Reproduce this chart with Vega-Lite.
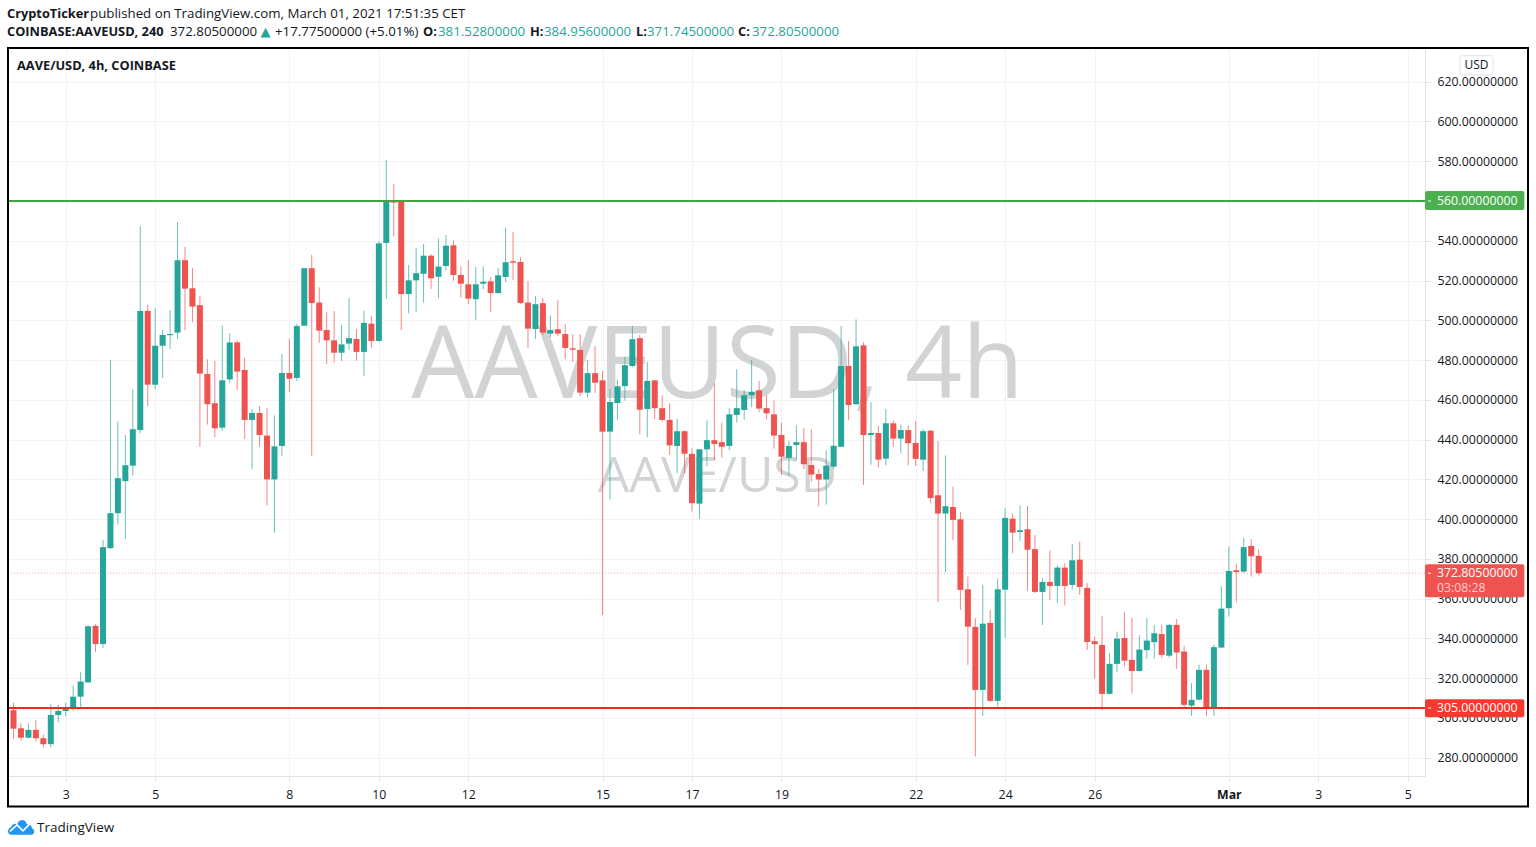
{"$schema":"https://vega.github.io/schema/vega-lite/v6.json","width":1417,"height":728,"autosize":{"type":"none"},"padding":{"left":8,"top":48,"right":111,"bottom":71},"background":"#ffffff",
"data":{"values":[{}]},
"config":{"view":{"stroke":null},"text":{"font":"Open Sans","fontSize":13.3,"align":"left","baseline":"alphabetic","color":"#131722"}},
"datasets":{"candles":[
{"t":"2021-02-01T16:00Z","open":289,"high":303.7,"low":289,"close":303.7,"dir":"up"},
{"t":"2021-02-01T20:00Z","open":303.9,"high":307.7,"low":289.4,"close":294.6,"dir":"down"},
{"t":"2021-02-02T00:00Z","open":294.8,"high":297.3,"low":288.6,"close":290.1,"dir":"down"},
{"t":"2021-02-02T04:00Z","open":290.1,"high":297.3,"low":289.6,"close":294,"dir":"up"},
{"t":"2021-02-02T08:00Z","open":294,"high":299,"low":288.1,"close":289.8,"dir":"down"},
{"t":"2021-02-02T12:00Z","open":289.8,"high":291.8,"low":285.1,"close":286.8,"dir":"down"},
{"t":"2021-02-02T16:00Z","open":286.8,"high":306.9,"low":285.3,"close":301.5,"dir":"up"},
{"t":"2021-02-02T20:00Z","open":301.5,"high":306.6,"low":297.8,"close":303.5,"dir":"up"},
{"t":"2021-02-03T00:00Z","open":303.5,"high":307.7,"low":300.7,"close":304.5,"dir":"up"},
{"t":"2021-02-03T04:00Z","open":304.5,"high":316.3,"low":303.7,"close":310.7,"dir":"up"},
{"t":"2021-02-03T08:00Z","open":310.7,"high":323,"low":304.5,"close":318.3,"dir":"up"},
{"t":"2021-02-03T12:00Z","open":317.9,"high":346.6,"low":317.5,"close":346.1,"dir":"up"},
{"t":"2021-02-03T16:00Z","open":346.3,"high":347.1,"low":333.2,"close":337.2,"dir":"down"},
{"t":"2021-02-03T20:00Z","open":337.2,"high":389.5,"low":335.2,"close":385.9,"dir":"up"},
{"t":"2021-02-04T00:00Z","open":385.4,"high":480,"low":385,"close":403,"dir":"up"},
{"t":"2021-02-04T04:00Z","open":403,"high":449.2,"low":397.2,"close":420.6,"dir":"up"},
{"t":"2021-02-04T08:00Z","open":419.1,"high":442.2,"low":389.9,"close":427.1,"dir":"up"},
{"t":"2021-02-04T12:00Z","open":426.9,"high":465.3,"low":421.9,"close":445.2,"dir":"up"},
{"t":"2021-02-04T16:00Z","open":444.8,"high":547.3,"low":443.2,"close":504.7,"dir":"up"},
{"t":"2021-02-04T20:00Z","open":504.7,"high":507.9,"low":456.9,"close":467.6,"dir":"down"},
{"t":"2021-02-05T00:00Z","open":467.6,"high":506,"low":465.3,"close":487.2,"dir":"up"},
{"t":"2021-02-05T04:00Z","open":487.2,"high":495.1,"low":471,"close":492.6,"dir":"up"},
{"t":"2021-02-05T08:00Z","open":492.5,"high":505.2,"low":485.6,"close":493.1,"dir":"up"},
{"t":"2021-02-05T12:00Z","open":493.8,"high":549.4,"low":490.6,"close":530.2,"dir":"up"},
{"t":"2021-02-05T16:00Z","open":530.2,"high":537,"low":495,"close":515.9,"dir":"down"},
{"t":"2021-02-05T20:00Z","open":516.1,"high":526.2,"low":499,"close":506.9,"dir":"down"},
{"t":"2021-02-06T00:00Z","open":507.6,"high":512.2,"low":436.4,"close":473.2,"dir":"down"},
{"t":"2021-02-06T04:00Z","open":473,"high":480.4,"low":447.5,"close":457.8,"dir":"down"},
{"t":"2021-02-06T08:00Z","open":458.3,"high":479.6,"low":441.2,"close":445.7,"dir":"down"},
{"t":"2021-02-06T12:00Z","open":446,"high":497.3,"low":444.5,"close":469.8,"dir":"up"},
{"t":"2021-02-06T16:00Z","open":470.3,"high":493.5,"low":468.6,"close":488.9,"dir":"up"},
{"t":"2021-02-06T20:00Z","open":488.9,"high":489.9,"low":465,"close":474.2,"dir":"down"},
{"t":"2021-02-07T00:00Z","open":475,"high":481,"low":440.3,"close":449.9,"dir":"down"},
{"t":"2021-02-07T04:00Z","open":449.9,"high":455.4,"low":425.1,"close":453.4,"dir":"up"},
{"t":"2021-02-07T08:00Z","open":453.4,"high":456.8,"low":436.4,"close":442.3,"dir":"down"},
{"t":"2021-02-07T12:00Z","open":442,"high":455.8,"low":406.8,"close":420,"dir":"down"},
{"t":"2021-02-07T16:00Z","open":420,"high":452.2,"low":393.2,"close":436.6,"dir":"up"},
{"t":"2021-02-07T20:00Z","open":436.8,"high":483.1,"low":431.8,"close":473.5,"dir":"up"},
{"t":"2021-02-08T00:00Z","open":473.5,"high":490.8,"low":463.8,"close":470.6,"dir":"down"},
{"t":"2021-02-08T04:00Z","open":471,"high":498.1,"low":469.6,"close":497.1,"dir":"up"},
{"t":"2021-02-08T08:00Z","open":497.3,"high":526.3,"low":497.2,"close":526.2,"dir":"up"},
{"t":"2021-02-08T12:00Z","open":526.2,"high":532.9,"low":431.9,"close":508.7,"dir":"down"},
{"t":"2021-02-08T16:00Z","open":508.9,"high":516.6,"low":488.7,"close":494.8,"dir":"down"},
{"t":"2021-02-08T20:00Z","open":495.1,"high":504,"low":477.9,"close":489.9,"dir":"down"},
{"t":"2021-02-09T00:00Z","open":489.9,"high":504.7,"low":478.7,"close":483.7,"dir":"down"},
{"t":"2021-02-09T04:00Z","open":483.7,"high":497.6,"low":479.6,"close":487.9,"dir":"up"},
{"t":"2021-02-09T08:00Z","open":488.3,"high":511.2,"low":485.1,"close":491,"dir":"up"},
{"t":"2021-02-09T12:00Z","open":490.6,"high":495.5,"low":479.7,"close":484.1,"dir":"down"},
{"t":"2021-02-09T16:00Z","open":484.1,"high":504.7,"low":472,"close":498.7,"dir":"up"},
{"t":"2021-02-09T20:00Z","open":498.3,"high":502,"low":486.1,"close":489.6,"dir":"down"},
{"t":"2021-02-10T00:00Z","open":489.6,"high":539.8,"low":489.3,"close":538.7,"dir":"up"},
{"t":"2021-02-10T04:00Z","open":538.9,"high":580.6,"low":510.7,"close":560,"dir":"up"},
{"t":"2021-02-10T08:00Z","open":559.7,"high":568.6,"low":542.1,"close":559.2,"dir":"down"},
{"t":"2021-02-10T12:00Z","open":560,"high":560,"low":495,"close":513.2,"dir":"down"},
{"t":"2021-02-10T16:00Z","open":513.2,"high":527.8,"low":503.5,"close":520.1,"dir":"up"},
{"t":"2021-02-10T20:00Z","open":520.1,"high":536.4,"low":504.2,"close":523.7,"dir":"up"},
{"t":"2021-02-11T00:00Z","open":523.4,"high":538.4,"low":508.9,"close":532.5,"dir":"up"},
{"t":"2021-02-11T04:00Z","open":532.5,"high":533.2,"low":515.8,"close":521.1,"dir":"down"},
{"t":"2021-02-11T08:00Z","open":521.9,"high":541.1,"low":511.1,"close":527,"dir":"up"},
{"t":"2021-02-11T12:00Z","open":527.3,"high":542.9,"low":525.2,"close":537.5,"dir":"up"},
{"t":"2021-02-11T16:00Z","open":537.7,"high":540.2,"low":519.9,"close":522.8,"dir":"down"},
{"t":"2021-02-11T20:00Z","open":522.8,"high":527.3,"low":511.4,"close":518.4,"dir":"down"},
{"t":"2021-02-12T00:00Z","open":518.1,"high":530.5,"low":508.1,"close":510.9,"dir":"down"},
{"t":"2021-02-12T04:00Z","open":510.6,"high":526.7,"low":500.3,"close":518.1,"dir":"up"},
{"t":"2021-02-12T08:00Z","open":518.4,"high":527,"low":515.6,"close":519.4,"dir":"up"},
{"t":"2021-02-12T12:00Z","open":519.6,"high":521.8,"low":504.2,"close":513.7,"dir":"down"},
{"t":"2021-02-12T16:00Z","open":513.7,"high":526.3,"low":513.4,"close":522.6,"dir":"up"},
{"t":"2021-02-12T20:00Z","open":521.8,"high":546.6,"low":519.3,"close":529.2,"dir":"up"},
{"t":"2021-02-13T00:00Z","open":529.7,"high":544.3,"low":520.3,"close":529,"dir":"down"},
{"t":"2021-02-13T04:00Z","open":529.3,"high":531.7,"low":508.1,"close":508.7,"dir":"down"},
{"t":"2021-02-13T08:00Z","open":508.9,"high":519.6,"low":486.1,"close":495.8,"dir":"down"},
{"t":"2021-02-13T12:00Z","open":495.6,"high":512.2,"low":490.6,"close":508.1,"dir":"up"},
{"t":"2021-02-13T16:00Z","open":508.6,"high":511.2,"low":492.6,"close":493.8,"dir":"down"},
{"t":"2021-02-13T20:00Z","open":493.3,"high":502.5,"low":491.5,"close":495.1,"dir":"up"},
{"t":"2021-02-14T00:00Z","open":495.5,"high":510.1,"low":492.1,"close":493.3,"dir":"down"},
{"t":"2021-02-14T04:00Z","open":493.1,"high":498,"low":480.4,"close":486.1,"dir":"down"},
{"t":"2021-02-14T08:00Z","open":485.9,"high":493,"low":479,"close":485.2,"dir":"down"},
{"t":"2021-02-14T12:00Z","open":485.1,"high":493,"low":461.8,"close":463.6,"dir":"down"},
{"t":"2021-02-14T16:00Z","open":463.6,"high":480,"low":461.1,"close":473.4,"dir":"up"},
{"t":"2021-02-14T20:00Z","open":473.4,"high":487.1,"low":463.5,"close":468.6,"dir":"down"},
{"t":"2021-02-15T00:00Z","open":469.8,"high":474.5,"low":351.8,"close":444,"dir":"down"},
{"t":"2021-02-15T04:00Z","open":444,"high":465.5,"low":410,"close":458.9,"dir":"up"},
{"t":"2021-02-15T08:00Z","open":458.4,"high":470.1,"low":450,"close":466.8,"dir":"up"},
{"t":"2021-02-15T12:00Z","open":466.9,"high":481.7,"low":459.6,"close":477.4,"dir":"up"},
{"t":"2021-02-15T16:00Z","open":477,"high":497.2,"low":476.4,"close":490.5,"dir":"up"},
{"t":"2021-02-15T20:00Z","open":491,"high":492.6,"low":442.7,"close":455,"dir":"down"},
{"t":"2021-02-16T00:00Z","open":455.4,"high":479,"low":441.2,"close":469.5,"dir":"up"},
{"t":"2021-02-16T04:00Z","open":469.8,"high":469.8,"low":450.4,"close":455.8,"dir":"down"},
{"t":"2021-02-16T08:00Z","open":455.8,"high":462.3,"low":449,"close":449.9,"dir":"down"},
{"t":"2021-02-16T12:00Z","open":449.9,"high":458.3,"low":432.3,"close":437.1,"dir":"down"},
{"t":"2021-02-16T16:00Z","open":436.8,"high":450.4,"low":423.1,"close":444.2,"dir":"up"},
{"t":"2021-02-16T20:00Z","open":444.2,"high":444.5,"low":422.9,"close":432.9,"dir":"down"},
{"t":"2021-02-17T00:00Z","open":432.8,"high":435.6,"low":403.8,"close":408,"dir":"down"},
{"t":"2021-02-17T04:00Z","open":407.8,"high":435.3,"low":400.1,"close":435.1,"dir":"up"},
{"t":"2021-02-17T08:00Z","open":435.1,"high":449.7,"low":426.7,"close":439.7,"dir":"up"},
{"t":"2021-02-17T12:00Z","open":439.7,"high":468.5,"low":429.8,"close":437.8,"dir":"down"},
{"t":"2021-02-17T16:00Z","open":438.7,"high":448.5,"low":430.9,"close":436.4,"dir":"down"},
{"t":"2021-02-17T20:00Z","open":436.8,"high":455.8,"low":434.8,"close":452.7,"dir":"up"},
{"t":"2021-02-18T00:00Z","open":452.4,"high":475.4,"low":448.5,"close":455.8,"dir":"up"},
{"t":"2021-02-18T04:00Z","open":454.9,"high":464.9,"low":450,"close":462.3,"dir":"up"},
{"t":"2021-02-18T08:00Z","open":462.3,"high":480,"low":456.4,"close":464,"dir":"up"},
{"t":"2021-02-18T12:00Z","open":464.8,"high":469.5,"low":453.8,"close":455.6,"dir":"down"},
{"t":"2021-02-18T16:00Z","open":455.8,"high":462.6,"low":450.2,"close":453.2,"dir":"down"},
{"t":"2021-02-18T20:00Z","open":452.7,"high":459.6,"low":435.4,"close":442,"dir":"down"},
{"t":"2021-02-19T00:00Z","open":442.3,"high":448.5,"low":422.4,"close":431.4,"dir":"down"},
{"t":"2021-02-19T04:00Z","open":430.8,"high":439.3,"low":421.9,"close":436.8,"dir":"up"},
{"t":"2021-02-19T08:00Z","open":437.3,"high":447.2,"low":429.8,"close":438.7,"dir":"up"},
{"t":"2021-02-19T12:00Z","open":438.7,"high":445.7,"low":425.1,"close":427.6,"dir":"down"},
{"t":"2021-02-19T16:00Z","open":427.2,"high":445.2,"low":418.8,"close":422.4,"dir":"down"},
{"t":"2021-02-19T20:00Z","open":422.7,"high":425.2,"low":406.3,"close":419.9,"dir":"down"},
{"t":"2021-02-20T00:00Z","open":419.9,"high":434.6,"low":407.3,"close":426.9,"dir":"up"},
{"t":"2021-02-20T04:00Z","open":426.4,"high":465.3,"low":425.2,"close":436.9,"dir":"up"},
{"t":"2021-02-20T08:00Z","open":436.4,"high":497.2,"low":436.3,"close":477,"dir":"up"},
{"t":"2021-02-20T12:00Z","open":477,"high":489.6,"low":450,"close":457.4,"dir":"down"},
{"t":"2021-02-20T16:00Z","open":457.8,"high":500.5,"low":457.4,"close":486.9,"dir":"up"},
{"t":"2021-02-20T20:00Z","open":487.4,"high":488.9,"low":417.2,"close":442.3,"dir":"down"},
{"t":"2021-02-21T00:00Z","open":442.3,"high":458.8,"low":427.4,"close":443.3,"dir":"up"},
{"t":"2021-02-21T04:00Z","open":443.3,"high":446.9,"low":426.1,"close":429.9,"dir":"down"},
{"t":"2021-02-21T08:00Z","open":430.4,"high":455.4,"low":427.1,"close":448.2,"dir":"up"},
{"t":"2021-02-21T12:00Z","open":448.2,"high":449.7,"low":436.3,"close":440.5,"dir":"down"},
{"t":"2021-02-21T16:00Z","open":440.5,"high":447.5,"low":433.1,"close":444.8,"dir":"up"},
{"t":"2021-02-21T20:00Z","open":444.8,"high":446.9,"low":427.1,"close":438.2,"dir":"down"},
{"t":"2021-02-22T00:00Z","open":438.3,"high":449.4,"low":426.7,"close":430.3,"dir":"down"},
{"t":"2021-02-22T04:00Z","open":429.9,"high":445.2,"low":424.2,"close":444.2,"dir":"up"},
{"t":"2021-02-22T08:00Z","open":444.5,"high":444.5,"low":408,"close":410.6,"dir":"down"},
{"t":"2021-02-22T12:00Z","open":412,"high":439.3,"low":358.2,"close":402.8,"dir":"down"},
{"t":"2021-02-22T16:00Z","open":402.8,"high":432.1,"low":373.4,"close":406.5,"dir":"up"},
{"t":"2021-02-22T20:00Z","open":406.1,"high":416.3,"low":389.5,"close":399.6,"dir":"down"},
{"t":"2021-02-23T00:00Z","open":399.9,"high":403.5,"low":354.3,"close":364.4,"dir":"down"},
{"t":"2021-02-23T04:00Z","open":364.7,"high":371.1,"low":326.7,"close":345.9,"dir":"down"},
{"t":"2021-02-23T08:00Z","open":345.8,"high":350.2,"low":280.6,"close":314.1,"dir":"down"},
{"t":"2021-02-23T12:00Z","open":314.1,"high":367,"low":301,"close":347.4,"dir":"up"},
{"t":"2021-02-23T16:00Z","open":347.8,"high":354.3,"low":308.1,"close":308.6,"dir":"down"},
{"t":"2021-02-23T20:00Z","open":308.6,"high":370,"low":305.7,"close":364.7,"dir":"up"},
{"t":"2021-02-24T00:00Z","open":364.5,"high":405.5,"low":340.1,"close":400.6,"dir":"up"},
{"t":"2021-02-24T04:00Z","open":400.2,"high":402.9,"low":382.8,"close":393.2,"dir":"down"},
{"t":"2021-02-24T08:00Z","open":393.5,"high":406.8,"low":389,"close":394.4,"dir":"up"},
{"t":"2021-02-24T12:00Z","open":394.9,"high":406.6,"low":363.9,"close":384.6,"dir":"down"},
{"t":"2021-02-24T16:00Z","open":384.9,"high":391.9,"low":362.7,"close":363.4,"dir":"down"},
{"t":"2021-02-24T20:00Z","open":363.4,"high":370.3,"low":346.8,"close":368.4,"dir":"up"},
{"t":"2021-02-25T00:00Z","open":368.4,"high":384.2,"low":359.2,"close":366.4,"dir":"down"},
{"t":"2021-02-25T04:00Z","open":366.4,"high":376.8,"low":357.8,"close":375.6,"dir":"up"},
{"t":"2021-02-25T08:00Z","open":375.6,"high":377.8,"low":356.5,"close":366.4,"dir":"down"},
{"t":"2021-02-25T12:00Z","open":366.9,"high":387.4,"low":364.7,"close":379.3,"dir":"up"},
{"t":"2021-02-25T16:00Z","open":379.6,"high":388.7,"low":361.9,"close":365.9,"dir":"down"},
{"t":"2021-02-25T20:00Z","open":365.4,"high":367.8,"low":334.2,"close":338.2,"dir":"down"},
{"t":"2021-02-26T00:00Z","open":338.6,"high":340.9,"low":319.8,"close":337.1,"dir":"down"},
{"t":"2021-02-26T04:00Z","open":336.7,"high":351.3,"low":304,"close":312.1,"dir":"down"},
{"t":"2021-02-26T08:00Z","open":312.1,"high":332.6,"low":311.8,"close":327.2,"dir":"up"},
{"t":"2021-02-26T12:00Z","open":327.2,"high":343.4,"low":323,"close":339.9,"dir":"up"},
{"t":"2021-02-26T16:00Z","open":340.2,"high":353.3,"low":325.8,"close":328.8,"dir":"down"},
{"t":"2021-02-26T20:00Z","open":329.2,"high":350.2,"low":312.4,"close":323.6,"dir":"down"},
{"t":"2021-02-27T00:00Z","open":323.6,"high":341.6,"low":323.3,"close":334.4,"dir":"up"},
{"t":"2021-02-27T04:00Z","open":334.1,"high":350.2,"low":329.7,"close":338.9,"dir":"up"},
{"t":"2021-02-27T08:00Z","open":338.1,"high":346.8,"low":329.7,"close":342.6,"dir":"up"},
{"t":"2021-02-27T12:00Z","open":342.2,"high":346.8,"low":330.3,"close":331.7,"dir":"down"},
{"t":"2021-02-27T16:00Z","open":331.3,"high":347.3,"low":330.3,"close":346.8,"dir":"up"},
{"t":"2021-02-27T20:00Z","open":346.8,"high":349.7,"low":324.7,"close":332.9,"dir":"down"},
{"t":"2021-02-28T00:00Z","open":333.4,"high":336.2,"low":305.4,"close":306.6,"dir":"down"},
{"t":"2021-02-28T04:00Z","open":306.2,"high":317.5,"low":301,"close":309.1,"dir":"up"},
{"t":"2021-02-28T08:00Z","open":309.2,"high":326.7,"low":308.7,"close":324.2,"dir":"up"},
{"t":"2021-02-28T12:00Z","open":324.2,"high":327,"low":301,"close":304.9,"dir":"down"},
{"t":"2021-02-28T16:00Z","open":305.2,"high":336.7,"low":301,"close":335.6,"dir":"up"},
{"t":"2021-02-28T20:00Z","open":335.4,"high":366.2,"low":335.1,"close":355,"dir":"up"},
{"t":"2021-03-01T00:00Z","open":355.2,"high":386.2,"low":351,"close":373.9,"dir":"up"},
{"t":"2021-03-01T04:00Z","open":374.3,"high":377.6,"low":358,"close":373.4,"dir":"down"},
{"t":"2021-03-01T08:00Z","open":373.6,"high":390.4,"low":373.1,"close":385.9,"dir":"up"},
{"t":"2021-03-01T12:00Z","open":386.5,"high":389.9,"low":371.1,"close":381.3,"dir":"down"},
{"t":"2021-03-01T16:00Z","open":381.528,"high":384.956,"low":371.745,"close":372.805,"dir":"down"}
]},
"layer":[
{"mark":{"type":"text","font":"Open Sans","fontSize":100,"color":"#d2d3d5","align":"center"},"encoding":{"x":{"datum":1613569000000,"type":"temporal","scale":{"type":"utc","nice":false,"padding":0,"domain":[1612198960000,1614935660000]},"axis":{"title":null,"values":[1612310400000,1612483200000,1612742400000,1612915200000,1613088000000,1613347200000,1613520000000,1613692800000,1613952000000,1614124800000,1614297600000,1614556800000,1614729600000,1614902400000],"labelExpr":"utcdate(datum.value)==1 ? 'Mar' : utcFormat(datum.value,'%-d')","labelFontWeight":{"condition":{"test":"utcdate(datum.value)==1","value":"bold"},"value":"normal"},"labelFont":"Open Sans","labelFontSize":12.3,"labelColor":"#131722","labelPadding":7,"tickSize":5,"tickColor":"#e6e6e6","domainColor":"#e0e0e0","gridColor":"#f3f3f3","grid":true,"labelOverlap":false,"labelFlush":false}},"y":{"datum":460.9,"type":"quantitative","scale":{"domain":[270.8,636.95],"nice":false,"zero":false,"padding":0},"axis":{"title":null,"orient":"right","values":[280,300,320,340,360,380,400,420,440,460,480,500,520,540,580,600,620],"format":".8f","labelFont":"Open Sans","labelFontSize":12.3,"labelColor":"#131722","labelPadding":6,"tickSize":6,"tickColor":"#e6e6e6","domainColor":"#e0e0e0","gridColor":"#f3f3f3","grid":true,"labelOverlap":false,"labelFlush":false}},"text":{"value":"AAVEUSD, 4h"}}},
{"mark":{"type":"text","font":"Open Sans","fontSize":50,"color":"#d2d3d5","align":"center"},"encoding":{"x":{"datum":1613569000000,"type":"temporal"},"y":{"datum":413.8,"type":"quantitative"},"text":{"value":"AAVE/USD"}}},
{"mark":{"type":"rule","strokeDash":[1,2],"color":"#ef5350","opacity":0.55,"strokeWidth":1},"encoding":{"y":{"datum":372.805,"type":"quantitative"}}},
{"data":{"name":"candles"},"mark":{"type":"rule","clip":true,"strokeWidth":1,"opacity":0.7},"encoding":{"x":{"field":"t","type":"temporal"},"y":{"field":"low","type":"quantitative"},"y2":{"field":"high"},"color":{"field":"dir","type":"nominal","legend":null,"scale":{"domain":["up","down"],"range":["#26a69a","#ef5350"]}}}},
{"data":{"name":"candles"},"mark":{"type":"bar","clip":true,"size":6},"encoding":{"x":{"field":"t","type":"temporal"},"y":{"field":"open","type":"quantitative"},"y2":{"field":"close"},"color":{"field":"dir","type":"nominal","legend":null,"scale":{"domain":["up","down"],"range":["#26a69a","#ef5350"]}}}},
{"mark":{"type":"rule","color":"#3fa742","strokeWidth":2},"encoding":{"y":{"datum":560,"type":"quantitative"}}},
{"mark":{"type":"rule","color":"#f5281e","strokeWidth":2},"encoding":{"y":{"datum":305,"type":"quantitative"}}},
{"mark":{"type":"rect","fill":"#4caf50","cornerRadius":2},"encoding":{"x":{"datum":1614935660000,"type":"temporal"},"x2":{"datum":1615127500000},"y":{"datum":565.03,"type":"quantitative"},"y2":{"datum":555.48}}},
{"mark":{"type":"rect","fill":"#ef5350","cornerRadius":2},"encoding":{"x":{"datum":1614935660000,"type":"temporal"},"x2":{"datum":1615127500000},"y":{"datum":377.3,"type":"quantitative"},"y2":{"datum":360.7}}},
{"mark":{"type":"rect","fill":"#f5392e","cornerRadius":2},"encoding":{"x":{"datum":1614935660000,"type":"temporal"},"x2":{"datum":1615127500000},"y":{"datum":309.4,"type":"quantitative"},"y2":{"datum":300.4}}},
{"mark":{"type":"rule","color":"#ffffff","strokeWidth":1},"encoding":{"x":{"datum":1614941450000,"type":"temporal"},"x2":{"datum":1614947250000},"y":{"datum":560,"type":"quantitative"}}},
{"mark":{"type":"rule","color":"#ffffff","strokeWidth":1},"encoding":{"x":{"datum":1614941450000,"type":"temporal"},"x2":{"datum":1614947250000},"y":{"datum":372.8,"type":"quantitative"}}},
{"mark":{"type":"rule","color":"#ffffff","strokeWidth":1},"encoding":{"x":{"datum":1614941450000,"type":"temporal"},"x2":{"datum":1614947250000},"y":{"datum":305,"type":"quantitative"}}},
{"mark":{"type":"text","color":"#ffffff","fontSize":12.3,"baseline":"middle"},"encoding":{"x":{"datum":1614958800000,"type":"temporal"},"y":{"datum":560,"type":"quantitative"},"text":{"value":"560.00000000"}}},
{"mark":{"type":"text","color":"#ffffff","fontSize":12.3,"baseline":"middle"},"encoding":{"x":{"datum":1614958800000,"type":"temporal"},"y":{"datum":372.8,"type":"quantitative"},"text":{"value":"372.80500000"}}},
{"mark":{"type":"text","color":"#fbd0cf","fontSize":12.3,"baseline":"middle"},"encoding":{"x":{"datum":1614958800000,"type":"temporal"},"y":{"datum":365.4,"type":"quantitative"},"text":{"value":"03:08:28"}}},
{"mark":{"type":"text","color":"#ffffff","fontSize":12.3,"baseline":"middle"},"encoding":{"x":{"datum":1614958800000,"type":"temporal"},"y":{"datum":305,"type":"quantitative"},"text":{"value":"305.00000000"}}},
{"mark":{"type":"rect","fill":"#ffffff","stroke":"#e0e3eb","strokeWidth":1,"cornerRadius":3},"encoding":{"x":{"datum":1615003260000,"type":"temporal"},"x2":{"datum":1615067000000},"y":{"datum":633.07,"type":"quantitative"},"y2":{"datum":623.37}}},
{"mark":{"type":"text","fontSize":12,"align":"center","baseline":"middle"},"encoding":{"x":{"datum":1615035100000,"type":"temporal"},"y":{"datum":628.4,"type":"quantitative"},"text":{"value":"USD"}}},
{"mark":{"type":"text","fontWeight":"bold","fontSize":12.8},"encoding":{"x":{"datum":1612197030000,"type":"temporal"},"y":{"datum":652.03,"type":"quantitative"},"text":{"value":"CryptoTicker"}}},
{"mark":{"type":"text"},"encoding":{"x":{"datum":1612357330000,"type":"temporal"},"y":{"datum":652.03,"type":"quantitative"},"text":{"value":"published on TradingView.com, March 01, 2021 17:51:35 CET"}}},
{"mark":{"type":"text","fontWeight":"bold","fontSize":12.8},"encoding":{"x":{"datum":1612197030000,"type":"temporal"},"y":{"datum":642.98,"type":"quantitative"},"text":{"value":"COINBASE:AAVEUSD, 240"}}},
{"mark":{"type":"text"},"encoding":{"x":{"datum":1612511840000,"type":"temporal"},"y":{"datum":642.98,"type":"quantitative"},"text":{"value":"372.80500000"}}},
{"mark":{"type":"text","font":"DejaVu Sans","fontSize":13,"align":"center","color":"#26a69a"},"encoding":{"x":{"datum":1612696280000,"type":"temporal"},"y":{"datum":642.98,"type":"quantitative"},"text":{"value":"▲"}}},
{"mark":{"type":"text"},"encoding":{"x":{"datum":1612714630000,"type":"temporal"},"y":{"datum":642.98,"type":"quantitative"},"text":{"value":"+17.77500000 (+5.01%)"}}},
{"mark":{"type":"text","fontWeight":"bold","fontSize":12.8},"encoding":{"x":{"datum":1613000470000,"type":"temporal"},"y":{"datum":642.98,"type":"quantitative"},"text":{"value":"O:"}}},
{"mark":{"type":"text","color":"#26a69a"},"encoding":{"x":{"datum":1613029440000,"type":"temporal"},"y":{"datum":642.98,"type":"quantitative"},"text":{"value":"381.52800000"}}},
{"mark":{"type":"text","fontWeight":"bold","fontSize":12.8},"encoding":{"x":{"datum":1613207120000,"type":"temporal"},"y":{"datum":642.98,"type":"quantitative"},"text":{"value":"H:"}}},
{"mark":{"type":"text","color":"#26a69a"},"encoding":{"x":{"datum":1613234160000,"type":"temporal"},"y":{"datum":642.98,"type":"quantitative"},"text":{"value":"384.95600000"}}},
{"mark":{"type":"text","fontWeight":"bold","fontSize":12.8},"encoding":{"x":{"datum":1613411840000,"type":"temporal"},"y":{"datum":642.98,"type":"quantitative"},"text":{"value":"L:"}}},
{"mark":{"type":"text","color":"#26a69a"},"encoding":{"x":{"datum":1613433080000,"type":"temporal"},"y":{"datum":642.98,"type":"quantitative"},"text":{"value":"371.74500000"}}},
{"mark":{"type":"text","fontWeight":"bold","fontSize":12.8},"encoding":{"x":{"datum":1613608830000,"type":"temporal"},"y":{"datum":642.98,"type":"quantitative"},"text":{"value":"C:"}}},
{"mark":{"type":"text","color":"#26a69a"},"encoding":{"x":{"datum":1613635870000,"type":"temporal"},"y":{"datum":642.98,"type":"quantitative"},"text":{"value":"372.80500000"}}},
{"mark":{"type":"text","fontWeight":"bold","fontSize":12.8},"encoding":{"x":{"datum":1612216340000,"type":"temporal"},"y":{"datum":625.88,"type":"quantitative"},"text":{"value":"AAVE/USD, 4h, COINBASE"}}},
{"mark":{"type":"text","fontSize":13.5},"encoding":{"x":{"datum":1612254970000,"type":"temporal"},"y":{"datum":242.7,"type":"quantitative"},"text":{"value":"TradingView"}}},
{"mark":{"type":"point","filled":true,"size":676,"color":"#2196f3","opacity":1,"shape":"M-0.75 0.6 C-1.05 0.6 -1.1 0.1 -0.75 0 C-0.7 -0.25 -0.4 -0.3 -0.3 -0.2 C-0.15 -0.65 0.35 -0.65 0.45 -0.2 C0.7 -0.25 0.85 -0.05 0.85 0.1 C1.1 0.2 1.05 0.6 0.8 0.6 Z"},"encoding":{"x":{"datum":1612224070000,"type":"temporal"},"y":{"datum":245.2,"type":"quantitative"}}},
{"mark":{"type":"point","filled":false,"size":676,"color":"#ffffff","opacity":1,"strokeWidth":1.6,"shape":"M-0.85 0.35 L-0.3 -0.15 L0.15 0.3 L0.7 -0.25"},"encoding":{"x":{"datum":1612224070000,"type":"temporal"},"y":{"datum":245.2,"type":"quantitative"}}},
{"mark":{"type":"rect","fill":null,"stroke":"#000000","strokeWidth":2},"encoding":{"x":{"datum":1612198960000,"type":"temporal"},"x2":{"datum":1615134600000},"y":{"datum":637,"type":"quantitative"},"y2":{"datum":255.5}}}
]}
